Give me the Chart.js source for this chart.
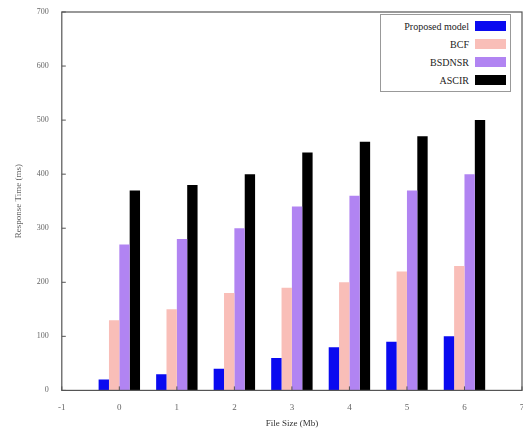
<!DOCTYPE html>
<html>
<head>
<meta charset="utf-8">
<script src="https://cdn.jsdelivr.net/npm/chart.js@4/dist/chart.umd.min.js"></script>
<style>
  html, body { margin: 0; padding: 0; background: #fff; overflow: hidden; }
  #wrap { position: relative; width: 535px; height: 433px; }
  #legend {
    position: absolute; left: 380px; top: 14px; width: 131px;
    border: 1px solid #999; background: #fff; padding: 2px 4px 2px 2px;
    font-family: "Liberation Serif", serif; font-size: 10px; color: #222;
    box-sizing: border-box;
  }
  #legend .row { display: flex; justify-content: flex-end; align-items: center; height: 18px; }
  #legend .sw { width: 31px; height: 10px; margin-left: 6px; }
</style>
</head>
<body>
<div id="wrap">
  <canvas id="grafica" width="535" height="433"></canvas>
  <div id="legend"></div>
</div>
<script>
// etiquetas del eje x (los extremos quedan vacios)
const etiquetas = ['-1', '0', '1', '2', '3', '4', '5', '6', '7'];
const nombres = ['Proposed model', 'BCF', 'BSDNSR', 'ASCIR'];
const colores = ['#0a0af0', '#f9beb8', '#b184f2', '#000000'];

const propuesto = [null, 20, 30, 40, 60, 80, 90, 100, null];
const bcf = [null, 130, 150, 180, 190, 200, 220, 230, null];
const bsdnsr = [null, 270, 280, 300, 340, 360, 370, 400, null];
const ascir = [null, 370, 380, 400, 440, 460, 470, 500, null];

const series = [propuesto, bcf, bsdnsr, ascir];

// leyenda en html: texto a la izquierda, color a la derecha
const leyenda = document.getElementById('legend');
nombres.forEach((n, i) => {
    const fila = document.createElement('div');
    fila.className = 'row';
    fila.innerHTML = `<span>${n}</span><span class="sw" style="background:${colores[i]}"></span>`;
    leyenda.appendChild(fila);
});

// marco completo y marcas hacia adentro
const marco = {
    id: 'marco',
    afterDraw(chart) {
        const { ctx, chartArea: a, scales } = chart;
        ctx.save();
        ctx.strokeStyle = '#555';
        ctx.lineWidth = 1.2;
        ctx.strokeRect(a.left, a.top, a.right - a.left, a.bottom - a.top);
        ctx.lineWidth = 1;
        scales.y.ticks.forEach((t, i) => {
            const y = scales.y.getPixelForTick(i);
            ctx.beginPath();
            ctx.moveTo(a.left, y);
            ctx.lineTo(a.left + 4, y);
            ctx.stroke();
        });
        scales.x.ticks.forEach((t, i) => {
            const x = scales.x.getPixelForTick(i);
            ctx.beginPath();
            ctx.moveTo(x, a.bottom);
            ctx.lineTo(x, a.bottom - 4);
            ctx.stroke();
        });
        ctx.restore();
    }
};

const fuente = { family: '"Liberation Serif", serif', size: 9 };

new Chart(document.getElementById('grafica'), {
    type: 'bar',
    data: {
        labels: etiquetas,
        datasets: series.map((d, i) => ({
            label: nombres[i],
            data: d,
            backgroundColor: colores[i],
            borderWidth: 0,
            categoryPercentage: 0.72,
            barPercentage: 1.0
        }))
    },
    options: {
        responsive: false,
        animation: false,
        layout: { padding: { left: 9, top: 12, right: 13, bottom: 4 } },
        plugins: {
            legend: { display: false },
            tooltip: { enabled: false }
        },
        scales: {
            x: {
                offset: false,
                grid: { display: false },
                border: { display: false },
                ticks: { color: '#666', font: fuente, padding: 4 },
                title: { display: true, text: 'File Size (Mb)', color: '#333', font: fuente, padding: { top: 1, bottom: 0 } }
            },
            y: {
                min: 0,
                max: 700,
                grid: { display: false },
                border: { display: false },
                ticks: { stepSize: 100, color: '#666', font: { family: '"Liberation Serif", serif', size: 8 }, padding: 5 },
                title: { display: true, text: 'Response Time (ms)', color: '#666', font: fuente, padding: { bottom: 8 } }
            }
        }
    },
    plugins: [marco]
});
</script>
</body>
</html>
